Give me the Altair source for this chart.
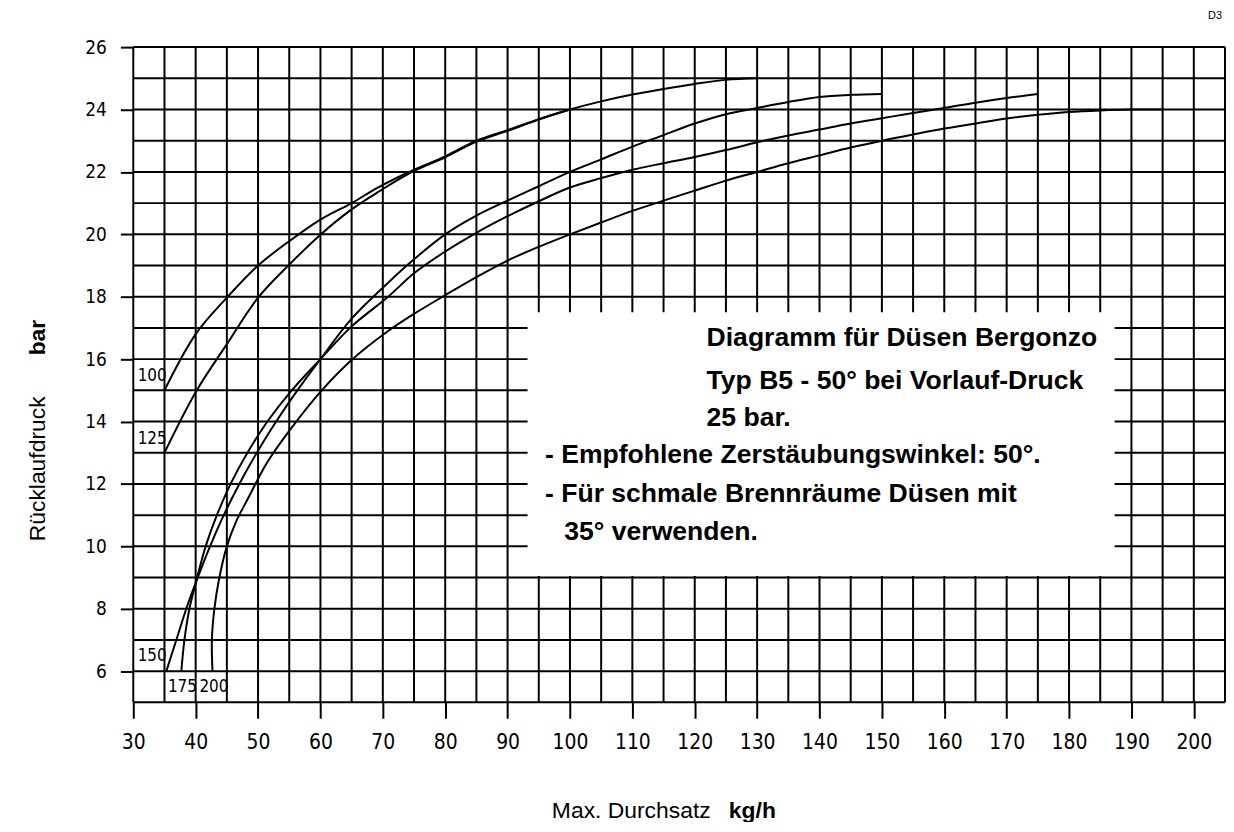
import altair as alt
import pandas as pd

# ---- curve data (Max. Durchsatz kg/h  vs  Rücklaufdruck bar) ----
c100_x = [35, 40, 45, 50, 55, 60, 65, 69.2, 75, 80, 85, 90, 95, 100]
c100_y = [15, 16.8, 17.97, 19.0, 19.78, 20.47, 21.0, 21.5, 22.07, 22.5, 23.0, 23.34, 23.69, 24.0]

c125_x = [35, 40, 45, 50, 55, 60, 65, 69.2, 75, 80, 85, 90, 95, 100, 105, 110, 115, 120, 125, 130]
c125_y = [13, 14.94, 16.48, 17.97, 19.03, 19.99, 20.8, 21.35, 22.03, 22.47, 22.97, 23.32, 23.68, 24.0,
          24.26, 24.48, 24.66, 24.82, 24.95, 25.0]

c150_x = [35.3, 36.9, 38.5, 40.05, 42.3, 44.5, 47.0, 49.8, 52.9, 56.3, 60, 65, 70.85, 75, 80, 85, 90, 95,
          100, 105, 110, 115, 120, 125, 130, 135, 140, 145, 150]
c150_y = [6, 7, 8, 8.85, 10, 11, 12, 13, 14, 15, 16, 17.3, 18.45, 19.2, 20.0, 20.6, 21.08, 21.54,
          22.0, 22.4, 22.81, 23.18, 23.55, 23.85, 24.05, 24.24, 24.4, 24.47, 24.5]

c175_x = [37.7, 38.2, 39.0, 40.05, 41.6, 43.4, 45.6, 48.3, 51.5, 55.4, 60, 65, 70.85, 75, 80, 85, 90, 95,
          100, 105, 110, 115, 120, 125, 130, 135, 140, 145, 150, 155, 160, 165, 170, 175]
c175_y = [6, 7, 8, 8.85, 10, 11, 12, 13, 14, 15, 16, 17.05, 18.0, 18.75, 19.45, 20.05, 20.58, 21.06,
          21.5, 21.8, 22.07, 22.28, 22.48, 22.70, 22.95, 23.17, 23.36, 23.55, 23.72, 23.89, 24.05,
          24.22, 24.37, 24.5]

c200_x = [42.7, 42.6, 43.0, 43.8, 45.0, 46.5, 48.3, 51.5, 55, 60, 65, 70.85, 75, 80, 85, 90, 95, 100,
          105, 110, 115, 120, 125, 130, 135, 140, 145, 150, 155, 160, 165, 170, 175, 180, 185, 190, 195]
c200_y = [6, 7, 8, 9, 10, 10.8, 11.5, 12.7, 13.7, 14.95, 15.97, 16.9, 17.45, 18.05, 18.63, 19.16, 19.6,
          20.0, 20.38, 20.75, 21.08, 21.4, 21.72, 22.0, 22.28, 22.53, 22.78, 23.0, 23.2, 23.39, 23.55,
          23.71, 23.83, 23.92, 23.97, 24.0, 24.0]

curve_names = ["100", "125", "150", "175", "200"]
curve_xs = [c100_x, c125_x, c150_x, c175_x, c200_x]
curve_ys = [c100_y, c125_y, c150_y, c175_y, c200_y]

# curve labels (in the grid cells at the lower left)
lab_text = ["100", "125", "150", "175", "200"]
lab_x = [30.7, 30.7, 30.7, 35.55, 40.6]
lab_y = [15.45, 13.45, 6.5, 5.5, 5.5]

# ticks / grid
x_ticks = list(range(30, 201, 10))
y_ticks = list(range(6, 27, 2))
grid_x = list(range(30, 206, 5))
grid_y = list(range(5, 27))

# note box
box_x0, box_x1, box_y0, box_y1 = 93.2, 187.3, 9.05, 17.5
note_lines = ["Diagramm für Düsen Bergonzo", "Typ B5 - 50° bei Vorlauf-Druck", "25 bar.",
              "- Empfohlene Zerstäubungswinkel: 50°.", "- Für schmale Brennräume Düsen mit",
              "35° verwenden."]
note_x = [121.9, 121.9, 121.9, 96.0, 96.0, 99.1]
note_y = [16.67, 15.30, 14.12, 12.94, 11.67, 10.46]

NARROW = "Liberation Sans Narrow, Arial Narrow, DejaVu Sans Condensed, Liberation Sans"
SANS = "Liberation Sans, Arial, Helvetica"

# ---- tables ----
rows = []
for n, xs, ys in zip(curve_names, curve_xs, curve_ys):
    for i, (a, b) in enumerate(zip(xs, ys)):
        rows.append({"nozzle": n, "i": i, "x": a, "y": b})
curves = pd.DataFrame(rows)
vgrid = pd.DataFrame({"x": grid_x, "y0": 5, "y1": 26})
hgrid = pd.DataFrame({"y": grid_y, "x0": 30, "x1": 205})
labels = pd.DataFrame({"t": lab_text, "x": lab_x, "y": lab_y})
notes = pd.DataFrame({"t": note_lines, "x": note_x, "y": note_y})
box = pd.DataFrame({"x0": [box_x0], "x1": [box_x1], "y0": [box_y0], "y1": [box_y1]})

XS = alt.Scale(domain=[30, 205], nice=False, zero=False)
YS = alt.Scale(domain=[5, 26], nice=False, zero=False)

x_axis = alt.Axis(values=x_ticks, title=None, grid=False, domain=False, tickSize=16, tickWidth=2,
                  tickColor="black", labelFont=NARROW, labelFontSize=21, labelColor="black",
                  labelPadding=13, format="d", labelFlush=False, labelOverlap=False)
y_axis = alt.Axis(values=y_ticks, title=None, grid=False, domain=False, tickSize=13, tickWidth=2,
                  tickColor="black", labelFont=NARROW, labelFontSize=19, labelColor="black",
                  labelPadding=14, format="d", labelFlush=False, labelOverlap=False)


def X(field):
    return alt.X(field, scale=XS, axis=x_axis)


def Y(field):
    return alt.Y(field, scale=YS, axis=y_axis)


vlines = alt.Chart(vgrid).mark_rule(color="black", strokeWidth=2).encode(
    x=X("x:Q"), y=Y("y0:Q"), y2="y1:Q")
hlines = alt.Chart(hgrid).mark_rule(color="black", strokeWidth=2).encode(
    x=X("x0:Q"), x2="x1:Q", y=Y("y:Q"))
lines = alt.Chart(curves).mark_line(color="black", strokeWidth=2, interpolate="catmull-rom").encode(
    x=X("x:Q"), y=Y("y:Q"), detail="nozzle:N", order="i:Q")
boxmark = alt.Chart(box).mark_rect(color="white").encode(
    x=X("x0:Q"), x2="x1:Q", y=Y("y0:Q"), y2="y1:Q")
notetext = alt.Chart(notes).mark_text(align="left", baseline="middle", font=SANS, fontWeight="bold",
                                      fontSize=26.7, color="black").encode(
    x=X("x:Q"), y=Y("y:Q"), text="t:N")
labtext = alt.Chart(labels).mark_text(align="left", baseline="middle", font=NARROW, fontSize=17,
                                      color="black").encode(
    x=X("x:Q"), y=Y("y:Q"), text="t:N")

one = pd.DataFrame({"k": [0]})


def ann(text, x, y, size, weight="normal", align="left", angle=0, font=SANS, baseline="middle"):
    kw = dict(align=align, baseline=baseline, font=font, fontSize=size, fontWeight=weight, color="black")
    if angle:
        kw["angle"] = angle
    return alt.Chart(one).mark_text(**kw).encode(x=alt.value(x), y=alt.value(y), text=alt.value(text))


xt1 = ann("Max. Durchsatz", 421, 768, 23)
xt2 = ann("kg/h", 599, 768, 23, weight="bold")
yt1 = ann("Rücklaufdruck", -96, 497, 23, angle=270)
yt2 = ann("bar", -96, 310, 23, weight="bold", angle=270)
d3 = ann("D3", 1088, -31, 11, align="center")

chart = alt.layer(vlines, hlines, lines, boxmark, notetext, labtext, xt1, xt2, yt1, yt2, d3).properties(
    width=1098, height=659,
    autosize=alt.AutoSizeParams(type="none"),
    padding={"left": 126, "top": 37, "right": 1, "bottom": 118},
).configure_view(stroke=None)

chart.save("out.html", embed_options={"renderer": "svg", "actions": False})
